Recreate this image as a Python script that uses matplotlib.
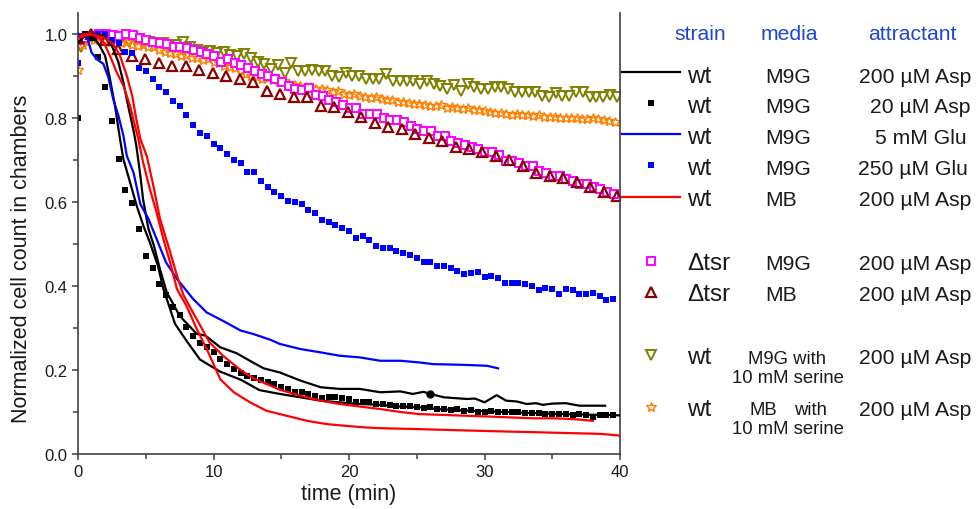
import numpy as np
import matplotlib
matplotlib.use('Agg')
import matplotlib.pyplot as plt
from matplotlib.lines import Line2D

plt.rcParams['font.family'] = ['Liberation Sans', 'DejaVu Sans']

# ---------------- data ----------------
# wt, M9G, 200 uM Asp (two replicates)
asp200_a_t = [0, 0.5, 1.0, 1.87, 2.5, 2.98, 3.35, 3.7, 4.1, 4.3, 4.6, 4.8, 5.2, 5.6, 6.05, 6.55,
              7.5, 8.76, 9.4, 10.5, 11.7, 12.9, 13.7, 14.9, 16.4, 17.9, 19.3, 20.8, 22.3, 23.8,
              24.7, 25.5, 26, 27, 28.7, 29.3, 30, 30.9, 31.6, 32.4, 33.1, 33.8, 34.3, 35, 36,
              37, 38, 38.9]
asp200_a_y = [0.98, 0.995, 1.0, 0.996, 0.972, 0.933, 0.885, 0.829, 0.77, 0.735, 0.663, 0.607,
              0.536, 0.496, 0.44, 0.385, 0.329, 0.286, 0.282, 0.254, 0.24, 0.218, 0.204, 0.194,
              0.175, 0.159, 0.155, 0.155, 0.147, 0.149, 0.143, 0.148, 0.143, 0.135, 0.131,
              0.132, 0.123, 0.140, 0.127, 0.125, 0.119, 0.121, 0.117, 0.120, 0.121, 0.115,
              0.115, 0.115]
asp200_b_t = [0, 0.4, 1.25, 1.6, 2.0, 2.36, 2.73, 3.1, 3.35, 3.84, 4.33, 4.82, 5.3, 5.9, 6.3,
              6.8, 7.16, 8.0, 9.0, 10.5, 12.0, 13.4, 14.9, 16.4, 17.9, 19.3, 20.8, 22.3, 23.8,
              25.2, 27, 29, 31, 33, 35, 37, 39, 40]
asp200_b_y = [0.99, 1.0, 0.988, 0.972, 0.948, 0.893, 0.829, 0.75, 0.702, 0.647, 0.591, 0.544,
              0.504, 0.448, 0.393, 0.345, 0.31, 0.27, 0.225, 0.196, 0.177, 0.152, 0.143, 0.135,
              0.127, 0.123, 0.119, 0.117, 0.113, 0.111, 0.106, 0.103, 0.101, 0.098, 0.096,
              0.094, 0.093, 0.092]
dot_time = 26  # single highlighted point on replicate a

# wt, M9G, 5 mM Glu
glu5_t = [0, 0.64, 1.0, 1.38, 1.87, 2.24, 2.6, 2.98, 3.35, 3.6, 4.1, 4.6, 5.2, 5.8, 6.5, 7.3,
          8.5, 9.5, 10.7, 12, 12.9, 14.2, 14.9, 16.4, 17.9, 19.3, 20.8, 22.3, 23.8, 25.2, 26.2,
          27.5, 28.7, 30.2, 31]
glu5_y = [1.0, 0.996, 0.956, 0.94, 0.929, 0.897, 0.845, 0.806, 0.758, 0.71, 0.67, 0.595, 0.56,
          0.512, 0.456, 0.417, 0.369, 0.337, 0.317, 0.294, 0.286, 0.272, 0.262, 0.25, 0.242,
          0.234, 0.23, 0.222, 0.222, 0.218, 0.214, 0.213, 0.212, 0.21, 0.204]

# wt, MB, 200 uM Asp (two replicates)
mb_a_t = [0, 0.4, 1.4, 1.9, 2.36, 2.85, 3.35, 3.84, 4.2, 4.45, 4.8, 5.3, 5.8, 6.3, 6.8, 7.3,
          8.0, 8.76, 9.5, 10.5, 11.5, 12.7, 13.9, 15.4, 16.9, 18.4, 19.8, 21.3, 22.8, 24.3,
          26.5, 28.7, 31, 33.6, 36, 38.5, 40]
mb_a_y = [0.99, 1.0, 0.996, 0.98, 0.948, 0.909, 0.877, 0.829, 0.782, 0.75, 0.695, 0.631, 0.575,
          0.512, 0.456, 0.393, 0.353, 0.298, 0.25, 0.178, 0.147, 0.123, 0.103, 0.091, 0.079,
          0.071, 0.067, 0.063, 0.061, 0.06, 0.058, 0.056, 0.054, 0.052, 0.05, 0.048, 0.044]
mb_b_t = [0, 0.9, 1.9, 2.6, 3.1, 3.6, 4.0, 4.3, 4.6, 5.07, 5.56, 6.05, 6.66, 7.3, 7.8, 8.76,
          9.7, 10.7, 12, 13, 13.9, 14.9, 16.4, 17.9, 19.3, 20.8, 22.3, 23.8, 25.2, 27, 28.7,
          30.5, 32, 33.6, 35, 36, 37, 38]
mb_b_y = [0.99, 1.0, 0.992, 0.976, 0.948, 0.901, 0.853, 0.798, 0.75, 0.71, 0.639, 0.56, 0.496,
          0.425, 0.377, 0.321, 0.266, 0.234, 0.200, 0.179, 0.167, 0.153, 0.139, 0.127, 0.119,
          0.113, 0.107, 0.100, 0.095, 0.093, 0.091, 0.089, 0.087, 0.085, 0.085, 0.084, 0.082,
          0.079]

# wt, M9G, 20 uM Asp (every 0.5 min)
asp20 = [0.80, 1.00, 0.99, 0.945, 0.873, 0.792, 0.702, 0.628, 0.598, 0.536,
         0.472, 0.442, 0.405, 0.379, 0.351, 0.331, 0.302, 0.282, 0.264, 0.254,
         0.242, 0.226, 0.214, 0.203, 0.194, 0.186, 0.180, 0.176, 0.172, 0.167,
         0.159, 0.155, 0.148, 0.147, 0.142, 0.139, 0.133, 0.136, 0.135, 0.133,
         0.131, 0.125, 0.123, 0.123, 0.119, 0.119, 0.117, 0.114, 0.114, 0.114,
         0.112, 0.110, 0.111, 0.108, 0.107, 0.105, 0.106, 0.103, 0.104, 0.101,
         0.101, 0.102, 0.100, 0.101, 0.099, 0.101, 0.098, 0.097, 0.098, 0.095,
         0.096, 0.095, 0.096, 0.094, 0.095, 0.093, 0.087, 0.094, 0.092, 0.093]

# wt, M9G, 250 uM Glu (every 0.5 min)
glu250 = [0.930, 0.998, 0.990, 1.000, 1.000, 0.985, 0.978, 0.956, 0.955, 0.920,
          0.911, 0.893, 0.875, 0.861, 0.841, 0.828, 0.806, 0.784, 0.764, 0.758,
          0.739, 0.728, 0.714, 0.700, 0.692, 0.672, 0.672, 0.651, 0.635, 0.625,
          0.615, 0.602, 0.601, 0.595, 0.582, 0.574, 0.558, 0.553, 0.545, 0.537,
          0.532, 0.514, 0.518, 0.510, 0.496, 0.491, 0.491, 0.484, 0.479, 0.474,
          0.466, 0.458, 0.456, 0.448, 0.447, 0.443, 0.435, 0.429, 0.431, 0.434,
          0.422, 0.425, 0.418, 0.407, 0.407, 0.407, 0.405, 0.401, 0.391, 0.395,
          0.394, 0.381, 0.394, 0.390, 0.381, 0.381, 0.383, 0.376, 0.367, 0.369]

# delta-tsr, M9G, 200 uM Asp (every 0.5 min)
tsr_m9g = [0.985, 0.990, 0.995, 1.000, 1.000, 0.998, 0.995, 1.000, 0.998, 0.990,
           0.985, 0.982, 0.978, 0.976, 0.970, 0.968, 0.966, 0.962, 0.957, 0.953,
           0.948, 0.934, 0.940, 0.932, 0.926, 0.920, 0.912, 0.905, 0.900, 0.893,
           0.886, 0.877, 0.869, 0.866, 0.871, 0.855, 0.853, 0.844, 0.838, 0.831,
           0.825, 0.824, 0.810, 0.810, 0.810, 0.799, 0.796, 0.796, 0.791, 0.780,
           0.774, 0.768, 0.770, 0.758, 0.756, 0.746, 0.740, 0.735, 0.730, 0.727,
           0.718, 0.718, 0.711, 0.698, 0.698, 0.694, 0.686, 0.686, 0.675, 0.669,
           0.663, 0.663, 0.655, 0.649, 0.643, 0.643, 0.635, 0.631, 0.623, 0.619]

# delta-tsr, MB, 200 uM Asp (about every minute)
tsr_mb = [0.990, 1.000, 0.985, 0.964, 0.947, 0.940, 0.932, 0.925, 0.925, 0.915,
          0.908, 0.901, 0.893, 0.886, 0.865, 0.857, 0.849, 0.849, 0.828, 0.826,
          0.815, 0.802, 0.788, 0.778, 0.774, 0.762, 0.752, 0.746, 0.730, 0.726,
          0.720, 0.709, 0.701, 0.686, 0.669, 0.663, 0.656, 0.648, 0.635, 0.625, 0.614]

# wt, M9G + 10 mM serine, 200 uM Asp (every 0.5 min)
ser_m9g = [0.970, 0.985, 0.992, 0.990, 0.995, 0.992, 0.990, 0.980, 0.985, 0.980,
           0.982, 0.976, 0.978, 0.972, 0.974, 0.982, 0.970, 0.962, 0.956, 0.960,
           0.955, 0.958, 0.950, 0.948, 0.952, 0.942, 0.934, 0.929, 0.917, 0.926,
           0.906, 0.932, 0.911, 0.911, 0.915, 0.911, 0.913, 0.901, 0.897, 0.907,
           0.901, 0.900, 0.894, 0.894, 0.893, 0.904, 0.887, 0.887, 0.889, 0.887,
           0.881, 0.887, 0.881, 0.877, 0.869, 0.879, 0.865, 0.881, 0.873, 0.869,
           0.868, 0.873, 0.875, 0.869, 0.861, 0.863, 0.861, 0.863, 0.852, 0.851,
           0.860, 0.852, 0.852, 0.863, 0.863, 0.849, 0.849, 0.849, 0.855, 0.849]

# wt, MB + 10 mM serine, 200 uM Asp (every 0.4 min)
ser_mb = [0.915, 0.975, 0.990, 0.985, 0.990, 0.985, 0.982, 0.985, 0.978, 0.980,
          0.975, 0.972, 0.975, 0.968, 0.970, 0.962, 0.958, 0.955, 0.952, 0.948,
          0.950, 0.944, 0.942, 0.938, 0.940, 0.933, 0.931, 0.925, 0.922, 0.918,
          0.913, 0.905, 0.900, 0.898, 0.893, 0.895, 0.890, 0.886, 0.889, 0.882,
          0.879, 0.876, 0.873, 0.875, 0.869, 0.869, 0.866, 0.862, 0.864, 0.858,
          0.855, 0.857, 0.852, 0.849, 0.847, 0.850, 0.845, 0.842, 0.844, 0.839,
          0.838, 0.836, 0.833, 0.834, 0.830, 0.829, 0.828, 0.830, 0.825, 0.826,
          0.824, 0.822, 0.823, 0.820, 0.818, 0.816, 0.815, 0.812, 0.813, 0.810,
          0.807, 0.809, 0.806, 0.806, 0.804, 0.806, 0.803, 0.802, 0.802, 0.800,
          0.801, 0.799, 0.800, 0.798, 0.797, 0.800, 0.798, 0.795, 0.793, 0.791]

x_ticks = [0, 10, 20, 30, 40]
y_ticks = [0.0, 0.2, 0.4, 0.6, 0.8, 1.0]

# sampling times of the marker series
t_asp20 = np.arange(len(asp20)) * 0.5
t_glu250 = np.arange(len(glu250)) * 0.5
t_tsr_m9g = 0.05 + np.arange(len(tsr_m9g)) * 0.5
t_tsr_mb = np.linspace(0, 39.8, len(tsr_mb))
t_ser_m9g = 0.25 + np.arange(len(ser_m9g)) * 0.5
t_ser_mb = np.arange(len(ser_mb)) * 0.4

# ---------------- styles ----------------
BLACK, BLUE, RED = '#000000', '#0000ff', '#ff0000'
MAGENTA, MAROON, OLIVE, ORANGE = '#ff00ff', '#8b0000', '#808000', '#ff8000'
HEAD = '#1f45d8'
LW = 1.6

sty_asp20 = dict(ls='none', marker='s', ms=4.2, color=BLACK, mew=0)
sty_glu250 = dict(ls='none', marker='s', ms=4.6, color=BLUE, mew=0)
sty_tsr_m9g = dict(ls='none', marker='s', ms=5.2, mfc='white', mec=MAGENTA, mew=1.4)
sty_tsr_mb = dict(ls='none', marker='^', ms=7, mfc='none', mec=MAROON, mew=1.6)
sty_ser_m9g = dict(ls='none', marker='v', ms=7, mfc='none', mec=OLIVE, mew=1.4)
sty_ser_mb = dict(ls='none', marker='*', ms=7.5, mfc='none', mec=ORANGE, mew=1.0)

W, H = 977, 510
fig = plt.figure(figsize=(W / 100, H / 100), dpi=100)


def fx(px):
    return px / W


def fy(py):
    return 1 - py / H


Y_TOP = 1.05
ax = fig.add_axes([fx(78), fy(455), fx(620) - fx(78), (455 - (455 - 420 * Y_TOP)) / H])

# marker series
ax.plot(t_ser_m9g, ser_m9g, **sty_ser_m9g, zorder=2)
ax.plot(t_ser_mb, ser_mb, **sty_ser_mb, zorder=2)
ax.plot(t_tsr_m9g, tsr_m9g, **sty_tsr_m9g, zorder=2)
ax.plot(t_tsr_mb, tsr_mb, **sty_tsr_mb, zorder=2)
ax.plot(t_glu250, glu250, **sty_glu250, zorder=2)
ax.plot(t_asp20, asp20, **sty_asp20, zorder=2)

# line series
ax.plot(asp200_b_t, asp200_b_y, color=BLACK, lw=LW, zorder=3)
idx = asp200_a_t.index(dot_time)
ax.plot(asp200_a_t, asp200_a_y, color=BLACK, lw=LW, marker='o', ms=5,
        markevery=[idx], zorder=3)
ax.plot(glu5_t, glu5_y, color=BLUE, lw=LW, zorder=3)
ax.plot(mb_a_t, mb_a_y, color=RED, lw=LW, zorder=3)
ax.plot(mb_b_t, mb_b_y, color=RED, lw=LW, zorder=3)

ax.set_xlim(0, 40)
ax.set_ylim(0, Y_TOP)
ax.set_xticks(x_ticks)
ax.set_xticks([5, 15, 25, 35], minor=True)
ax.set_yticks(y_ticks)
ax.set_yticks([0.1, 0.3, 0.5, 0.7, 0.9], minor=True)
ax.set_yticklabels([f'{v:.1f}' for v in y_ticks])
ax.tick_params(which='both', direction='out', color='#404040', width=1.1,
               labelsize=12, labelcolor='#1a1a1a', pad=3)
ax.tick_params(which='major', length=4.5)
ax.tick_params(which='minor', length=3.5)
ax.spines['top'].set_visible(False)
for s in ('left', 'bottom', 'right'):
    ax.spines[s].set_color('#404040')
    ax.spines[s].set_linewidth(1.2)

fig.text(fx(22), fy(259), 'Normalized cell count in chambers', rotation=90,
         ha='center', va='center', fontsize=15.5, color='#1a1a1a')
fig.text(fx(349), fy(495), 'time (min)', ha='center', va='center',
         fontsize=15.5, color='#1a1a1a')

# ---------------- key table ----------------
BIG, MID, SMALL = 17.5, 15.2, 13.3
fig.text(fx(700), fy(40.5), 'strain', ha='center', va='baseline', fontsize=MID, color=HEAD)
fig.text(fx(789.5), fy(40.5), 'media', ha='center', va='baseline', fontsize=MID, color=HEAD)
fig.text(fx(912), fy(40.5), 'attractant', ha='center', va='baseline', fontsize=MID, color=HEAD)


def key_line(y, color):
    fig.add_artist(Line2D([fx(622), fx(680)], [fy(y), fy(y)], color=color, lw=LW))


def key_marker(y, sty):
    fig.add_artist(Line2D([fx(651)], [fy(y)], **sty))


def row(base, strain, media, attr, attr_right=971):
    fig.text(fx(687), fy(base), strain, ha='left', va='baseline', fontsize=BIG, color='#1a1a1a')
    if media:
        fig.text(fx(765), fy(base), media, ha='left', va='baseline', fontsize=MID, color='#1a1a1a')
    fig.text(fx(attr_right), fy(base), attr, ha='right', va='baseline', fontsize=MID, color='#1a1a1a')


key_line(73, BLACK)
row(82.7, 'wt', 'M9G', '200 µM Asp')
key_marker(104, sty_asp20)
row(113, 'wt', 'M9G', '20 µM Asp')
key_line(135, BLUE)
row(143.5, 'wt', 'M9G', '5 mM Glu', 967)
key_marker(166, sty_glu250)
row(175, 'wt', 'M9G', '250 µM Glu', 967.5)
key_line(198, RED)
row(206, 'wt', 'MB', '200 µM Asp')

key_marker(261.7, sty_tsr_m9g)
row(270, 'Δtsr', 'M9G', '200 µM Asp')
key_marker(292.7, sty_tsr_mb)
row(301, 'Δtsr', 'MB', '200 µM Asp')

key_marker(356, sty_ser_m9g)
row(363.5, 'wt', None, '200 µM Asp')
fig.text(fx(748.3), fy(363.5), 'M9G with', ha='left', va='baseline', fontsize=SMALL, color='#1a1a1a')
fig.text(fx(788), fy(383), '10 mM serine', ha='center', va='baseline', fontsize=SMALL, color='#1a1a1a')

key_marker(408.3, sty_ser_mb)
row(416, 'wt', None, '200 µM Asp')
fig.text(fx(749.3), fy(415.5), 'MB', ha='left', va='baseline', fontsize=SMALL, color='#1a1a1a')
fig.text(fx(826.7), fy(415.5), 'with', ha='right', va='baseline', fontsize=SMALL, color='#1a1a1a')
fig.text(fx(788), fy(434), '10 mM serine', ha='center', va='baseline', fontsize=SMALL, color='#1a1a1a')

fig.savefig('out.png', dpi=100)
